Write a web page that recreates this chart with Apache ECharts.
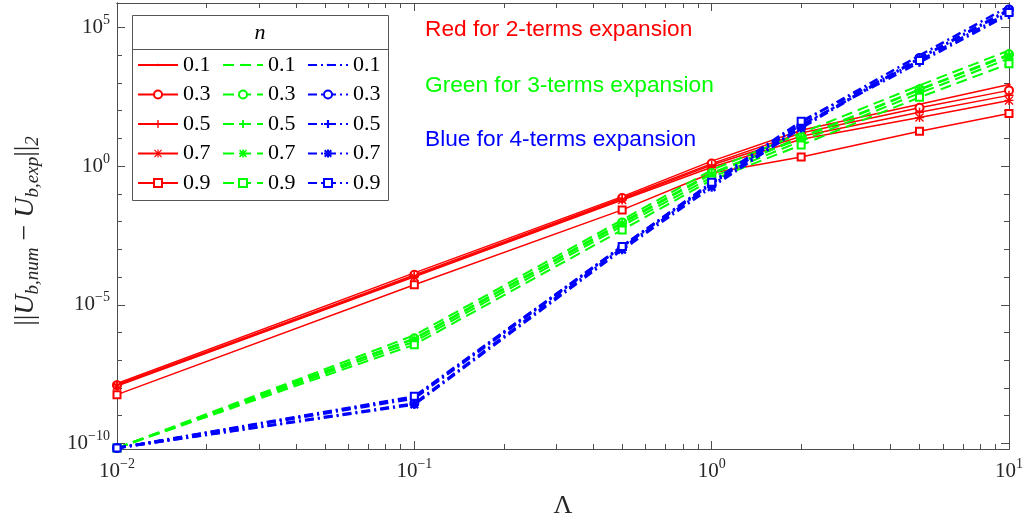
<!DOCTYPE html>
<html>
<head>
<meta charset="utf-8">
<script src="https://cdn.jsdelivr.net/npm/echarts@6/dist/echarts.min.js"></script>
<style>
  html, body { margin: 0; padding: 0; background: #fff; }
  #chart { width: 1030px; height: 523px; }
</style>
</head>
<body>
<div id="chart"></div>
<script>
// Lambda values (x axis)
const lambda = [0.01, 0.1, 0.5, 1, 2, 5, 10];
const nLabels = ['0.1', '0.3', '0.5', '0.7', '0.9'];

// 2-terms expansion (red)
const red_n01 = [1.45e-8, 1.41e-4, 0.0794, 1.51, 19.5, 170, 871];
const red_n03 = [1.26e-8, 1.20e-4, 0.0708, 1.23, 15.5, 126, 537];
const red_n05 = [1.32e-8, 1.10e-4, 0.0646, 1.10, 12.0, 87.1, 355];
const red_n07 = [1.17e-8, 1.02e-4, 0.0603, 0.912, 9.33, 56.2, 234];
const red_n09 = [5.75e-9, 5.25e-5, 0.0263, 0.562, 2.14, 18.2, 79.4];

// 3-terms expansion (green)
const green_n01 = [6.8e-11, 7.94e-7, 0.0115, 0.724, 15.5, 813, 14800];
const green_n03 = [6.8e-11, 6.17e-7, 0.00933, 0.562, 11.0, 589, 10700];
const green_n05 = [6.8e-11, 4.68e-7, 0.00692, 0.398, 7.94, 427, 7590];
const green_n07 = [6.8e-11, 5.75e-7, 0.00851, 0.513, 10.2, 562, 9770];
const green_n09 = [6.8e-11, 3.63e-7, 0.00501, 0.316, 5.75, 302, 4900];

// 4-terms expansion (blue)
const blue_n01 = [6.8e-11, 4.6e-9, 1.32e-3, 0.245, 38.0, 9770, 575000];
const blue_n03 = [6.8e-11, 2.75e-9, 1.12e-3, 0.209, 26.3, 7940, 447000];
const blue_n05 = [6.8e-11, 4.17e-9, 1.23e-3, 0.224, 30.9, 5500, 295000];
const blue_n07 = [6.8e-11, 2.51e-9, 9.55e-4, 0.174, 23.4, 7590, 407000];
const blue_n09 = [6.8e-11, 5.0e-9, 1.26e-3, 0.263, 41.7, 6460, 347000];

// axis ticks
const xMajorTicks = [0.01, 0.1, 1, 10];
const yMajorTicks = [1e-10, 1e-5, 1, 1e5];
const yMin = 6.3e-11, yMax = 7.6e5;

const xMinorTicks = [];
[0.01, 0.1, 1].forEach(d => { for (let k = 2; k <= 9; k++) xMinorTicks.push(+(d * k).toPrecision(3)); });
const yMinorTicks = [];
for (let e = -10; e <= 5; e++) yMinorTicks.push(Math.pow(10, e));

const axisColor = '#4d4d4d';
const textColor = '#262626';
const serif = '"Liberation Serif", "DejaVu Serif", serif';

// marker shapes, drawn in a 10x10 box; hw = half stroke width
function dotPath() {
  return 'path://M0,0M10,10M3.4,5A1.6,1.6,0,1,0,6.6,5A1.6,1.6,0,1,0,3.4,5Z';
}
function plusPath(hw) {
  const a = 5 - hw, b = 5 + hw;
  return 'path://M' + a + ',0H' + b + 'V' + a + 'H10V' + b + 'H' + b + 'V10H' + a + 'V' + b + 'H0V' + a + 'H' + a + 'Z';
}
function starPath(hw) {
  const a = 5 - hw, b = 5 + hw, d = hw * Math.SQRT2, e = 10 - d;
  return 'path://M' + a + ',0H' + b + 'V10H' + a + 'Z' +
    'M0,' + a + 'H10V' + b + 'H0Z' +
    'M0,' + d + 'L' + d + ',0L10,' + e + 'L' + e + ',10Z' +
    'M' + e + ',0L10,' + d + 'L' + d + ',10L0,' + e + 'Z';
}

const families = [
  { key: 'r', color: '#ff0000', dash: 'solid', width: 1.5, data: [red_n01, red_n03, red_n05, red_n07, red_n09] },
  { key: 'g', color: '#00ff00', dash: [11, 6], width: 2, data: [green_n01, green_n03, green_n05, green_n07, green_n09] },
  { key: 'b', color: '#0000ff', dash: [9, 4, 2, 4], width: 2.5, data: [blue_n01, blue_n03, blue_n05, blue_n07, blue_n09] }
];

function powLabel(v) {
  const e = Math.round(Math.log10(v));
  return '{b|10}{s|' + (e < 0 ? '\u2212' + (-e) : e) + '}';
}
const powRich = {
  b: { fontFamily: serif, fontSize: 21, color: textColor, lineHeight: 28 },
  s: { fontFamily: serif, fontSize: 14, color: textColor, verticalAlign: 'top', lineHeight: 14 }
};

const series = [];
const legends = [];
const legendLeft = [137, 222, 307];
families.forEach((f, fi) => {
  const names = [];
  const hw = f.width / 2 / 0.9;
  const shapes = [
    { symbol: dotPath(), size: 10, border: 0 },
    { symbol: 'emptyCircle', size: 8, border: f.width * 0.8 },
    { symbol: plusPath(hw), size: 9, border: 0 },
    { symbol: starPath(hw * 0.9), size: 9, border: 0 },
    { symbol: 'emptyRect', size: 7, border: f.width * 0.8 }
  ];
  f.data.forEach((vals, i) => {
    const name = f.key + nLabels[i];
    names.push(name);
    series.push({
      name: name,
      type: 'line',
      xAxisIndex: 0,
      yAxisIndex: 0,
      data: lambda.map((x, j) => [x, vals[j]]),
      symbol: shapes[i].symbol,
      symbolSize: shapes[i].size,
      showAllSymbol: true,
      lineStyle: { color: f.color, width: f.width, type: f.dash },
      itemStyle: { color: f.color, borderColor: f.color, borderWidth: shapes[i].border },
      emphasis: { disabled: true },
      z: 2 + fi
    });
  });
  legends.push({
    data: names,
    orient: 'vertical',
    left: legendLeft[fi],
    top: 54,
    padding: 0,
    itemWidth: 40,
    itemHeight: 10,
    itemGap: 7.5,
    selectedMode: false,
    formatter: name => name.slice(1),
    textStyle: { fontFamily: serif, fontSize: 22, lineHeight: 20, color: '#000' },
    z: 6
  });
});

function makeX(pos, ticks, len, showLabel, grid) {
  return {
    type: 'log', logBase: 10, min: 0.01, max: 10, gridIndex: grid, position: pos,
    axisLine: { show: true, onZero: false, lineStyle: { color: axisColor, width: 1 } },
    axisTick: { show: true, inside: true, length: len, customValues: ticks, lineStyle: { color: axisColor } },
    axisLabel: showLabel ? { show: true, customValues: xMajorTicks, formatter: powLabel, rich: powRich, margin: 8 } : { show: false },
    splitLine: { show: false },
    minorTick: { show: false }
  };
}
function makeY(pos, ticks, len, showLabel, grid) {
  return {
    type: 'log', logBase: 10, min: yMin, max: yMax, gridIndex: grid, position: pos,
    axisLine: { show: true, onZero: false, lineStyle: { color: axisColor, width: 1 } },
    axisTick: { show: true, inside: true, length: len, customValues: ticks, lineStyle: { color: axisColor } },
    axisLabel: showLabel ? { show: true, customValues: yMajorTicks, formatter: powLabel, rich: powRich, margin: 7 } : { show: false },
    splitLine: { show: false },
    minorTick: { show: false }
  };
}

const xAxes = [
  Object.assign(makeX('bottom', xMajorTicks, 8, true, 0), {
    name: '\u039B', nameLocation: 'middle', nameGap: 44,
    nameTextStyle: { fontFamily: serif, fontSize: 26, color: textColor }
  }),
  makeX('top', xMajorTicks, 8, false, 0),
  makeX('bottom', xMinorTicks, 5, false, 1),
  makeX('top', xMinorTicks, 5, false, 1)
];
const yAxes = [
  Object.assign(makeY('left', yMajorTicks, 8, true, 0), {
    name: '{t|||}{i|U}{sub|b,num}{t| \u2212 }{i|U}{sub|b,exp}{t|||}{sub|2}',
    nameLocation: 'middle', nameGap: 75,
    nameTextStyle: {
      padding: [0, 10, 0, 0],
      rich: {
        t: { fontFamily: serif, fontSize: 28, color: textColor, lineHeight: 32 },
        i: { fontFamily: serif, fontStyle: 'italic', fontSize: 28, color: textColor, lineHeight: 32 },
        sub: { fontFamily: serif, fontStyle: 'italic', fontSize: 19, color: textColor, verticalAlign: 'bottom', lineHeight: 19 }
      }
    }
  }),
  makeY('right', yMajorTicks, 8, false, 0),
  makeY('left', yMinorTicks, 5, false, 1),
  makeY('right', yMinorTicks, 5, false, 1)
];

const gridRect = { left: 117, right: 21, top: 3, bottom: 74, outerBoundsMode: 'none' };

const chart = echarts.init(document.getElementById('chart'), null, { renderer: 'canvas' });
chart.setOption({
  animation: false,
  backgroundColor: '#fff',
  grid: [Object.assign({}, gridRect), Object.assign({}, gridRect)],
  xAxis: xAxes,
  yAxis: yAxes,
  legend: legends,
  graphic: [
    { type: 'rect', z: 4, shape: { x: 132.5, y: 15.5, width: 256, height: 185 },
      style: { fill: '#fff', stroke: '#555', lineWidth: 1 } },
    { type: 'line', z: 4, shape: { x1: 132.5, y1: 49.5, x2: 388.5, y2: 49.5 },
      style: { stroke: '#555', lineWidth: 1 } },
    { type: 'text', z: 5, x: 260, y: 33,
      style: { text: 'n', font: 'italic 22px "Liberation Serif"', fill: '#000', align: 'center', verticalAlign: 'middle' } },
    { type: 'text', z: 5, x: 425, y: 30,
      style: { text: 'Red for 2-terms expansion', font: '22.7px "Liberation Sans"', fill: '#ff0000', verticalAlign: 'middle' } },
    { type: 'text', z: 5, x: 425, y: 86,
      style: { text: 'Green for 3-terms expansion', font: '22.7px "Liberation Sans"', fill: '#00ff00', verticalAlign: 'middle' } },
    { type: 'text', z: 5, x: 425, y: 140,
      style: { text: 'Blue for 4-terms expansion', font: '22.7px "Liberation Sans"', fill: '#0000ff', verticalAlign: 'middle' } }
  ],
  series: series
});
</script>
</body>
</html>
